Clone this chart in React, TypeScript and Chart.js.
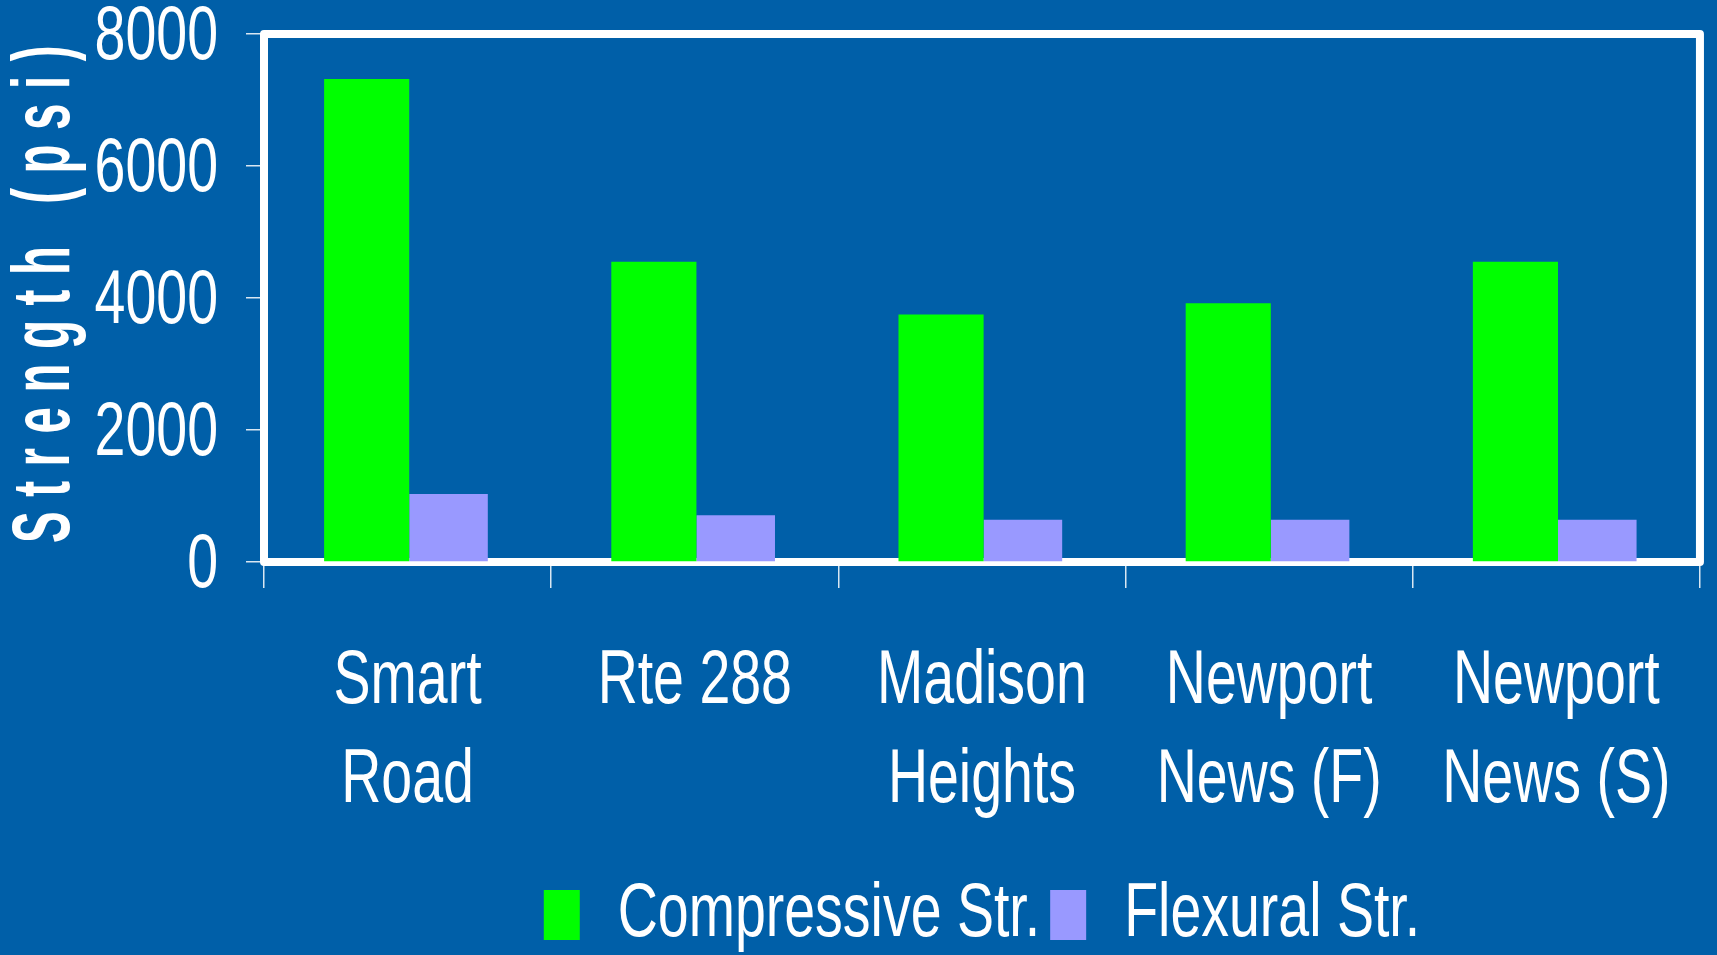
import React, { useEffect, useRef } from "react";
import { Chart, registerables } from "chart.js";

Chart.register(...registerables);

// ---- data ----
const categories: string[][] = [
  ["Smart", "Road"],
  ["Rte 288"],
  ["Madison", "Heights"],
  ["Newport", "News (F)"],
  ["Newport", "News (S)"],
];
const compressiveStr: number[] = [7320, 4550, 3750, 3920, 4550];
const flexuralStr: number[] = [1030, 710, 640, 640, 640];
const seriesNames: string[] = ["Compressive Str.", "Flexural Str."];
const yAxisTitle = "Strength (psi)";
const yMin = 0;
const yMax = 8000;
const yStep = 2000;

// ---- styles ----
const BG = "#005FA8";
const GREEN = "#00FF00";
const LAVENDER = "#9999FF";
const FONT = "'Liberation Sans', Arial, sans-serif";
const W = 1717;
const H = 955;
const TEXT_SQUEEZE = 0.73; // the original uses a condensed face
const TITLE_SQUEEZE = 0.58;
const TITLE_SPACING = 25;
const TITLE_SHIFT = 11;

function squeezeText(ctx: any) {
  const origFill = ctx.fillText.bind(ctx);
  const origMeasure = ctx.measureText.bind(ctx);
  const isBold = () => /bold|[6-9]00/.test(ctx.font);
  ctx.measureText = (text: string) => {
    const m = origMeasure(text);
    const k = isBold() ? TITLE_SQUEEZE : TEXT_SQUEEZE;
    return {
      width: m.width * k,
      actualBoundingBoxAscent: m.actualBoundingBoxAscent,
      actualBoundingBoxDescent: m.actualBoundingBoxDescent,
      actualBoundingBoxLeft: m.actualBoundingBoxLeft * k,
      actualBoundingBoxRight: m.actualBoundingBoxRight * k,
      fontBoundingBoxAscent: m.fontBoundingBoxAscent,
      fontBoundingBoxDescent: m.fontBoundingBoxDescent,
    };
  };
  ctx.fillText = (text: string, x: number, y: number, maxWidth?: number) => {
    const bold = isBold();
    const prevSpacing = ctx.letterSpacing;
    let px = x;
    if (bold) {
      ctx.letterSpacing = TITLE_SPACING + "px";
      px = x + TITLE_SHIFT;
    }
    const w = origMeasure(text).width * (bold ? TITLE_SQUEEZE : TEXT_SQUEEZE);
    const mw = maxWidth !== undefined ? Math.min(maxWidth, w) : w;
    origFill(text, px, y, Math.max(1, mw));
    ctx.letterSpacing = prevSpacing;
  };
}

const framePlugin = {
  id: "frame",
  beforeDatasetsDraw(chart: any) {
    const { ctx, chartArea } = chart;
    ctx.save();
    ctx.strokeStyle = "#FFFFFF";
    ctx.lineWidth = 8;
    ctx.lineJoin = "round";
    ctx.strokeRect(
      chartArea.left,
      chartArea.top,
      chartArea.right - chartArea.left,
      chartArea.bottom - chartArea.top
    );
    ctx.restore();
  },
};

export default function App() {
  const ref = useRef<HTMLCanvasElement | null>(null);

  useEffect(() => {
    if (!ref.current) return;
    const ctx = ref.current.getContext("2d");
    squeezeText(ctx);
    const chart = new Chart(ref.current, {
      type: "bar",
      data: {
        labels: categories,
        datasets: [
          {
            label: seriesNames[0],
            data: compressiveStr,
            backgroundColor: GREEN,
            borderWidth: 0,
            barPercentage: 1.04,
            categoryPercentage: 0.57,
          },
          {
            label: seriesNames[1],
            data: flexuralStr,
            backgroundColor: LAVENDER,
            borderWidth: 0,
            barPercentage: 0.96,
            categoryPercentage: 0.57,
          },
        ],
      },
      options: {
        responsive: false,
        animation: false,
        devicePixelRatio: 1,
        layout: {
          padding: { top: 34, right: 16, left: 0, bottom: -8 },
        },
        plugins: {
          tooltip: { enabled: false },
          legend: {
            position: "bottom",
            fullSize: false,
            labels: {
              color: "#FFFFFF",
              font: { family: FONT, size: 76 },
              boxWidth: 36,
              boxHeight: 50,
              padding: 10,
            },
          },
        },
        scales: {
          x: {
            grid: {
              display: true,
              drawOnChartArea: false,
              drawTicks: true,
              tickLength: 26,
              color: "rgba(255,255,255,0.85)",
              lineWidth: 1.5,
              offset: true,
            },
            border: { display: false },
            ticks: {
              color: "#FFFFFF",
              font: { family: FONT, size: 76, lineHeight: 1.3 },
              padding: 45,
              maxRotation: 0,
              autoSkip: false,
            },
            afterFit: (scale: any) => {
              scale.height = 305;
            },
          },
          y: {
            min: yMin,
            max: yMax,
            grid: {
              display: true,
              drawOnChartArea: false,
              drawTicks: true,
              tickLength: 18,
              color: "rgba(255,255,255,0.85)",
              lineWidth: 1.5,
            },
            border: { display: false },
            ticks: {
              stepSize: yStep,
              color: "#FFFFFF",
              font: { family: FONT, size: 76, lineHeight: 0.05 },
              padding: 28,
              labelOffset: 4,
              callback: (v: any) => String(v),
            },
            title: {
              display: true,
              text: yAxisTitle,
              color: "#FFFFFF",
              font: { family: FONT, size: 82, weight: "bold", lineHeight: 1 },
              padding: { top: 5, bottom: 0 },
            },
            afterFit: (scale: any) => {
              scale.width = 264;
            },
          },
        },
      },
      plugins: [framePlugin],
    });
    return () => chart.destroy();
  }, []);

  return (
    <div
      style={{
        position: "fixed",
        left: 0,
        top: 0,
        width: W,
        height: H,
        background: BG,
        overflow: "hidden",
      }}
    >
      <canvas ref={ref} width={W} height={H} style={{ display: "block" }} />
    </div>
  );
}
